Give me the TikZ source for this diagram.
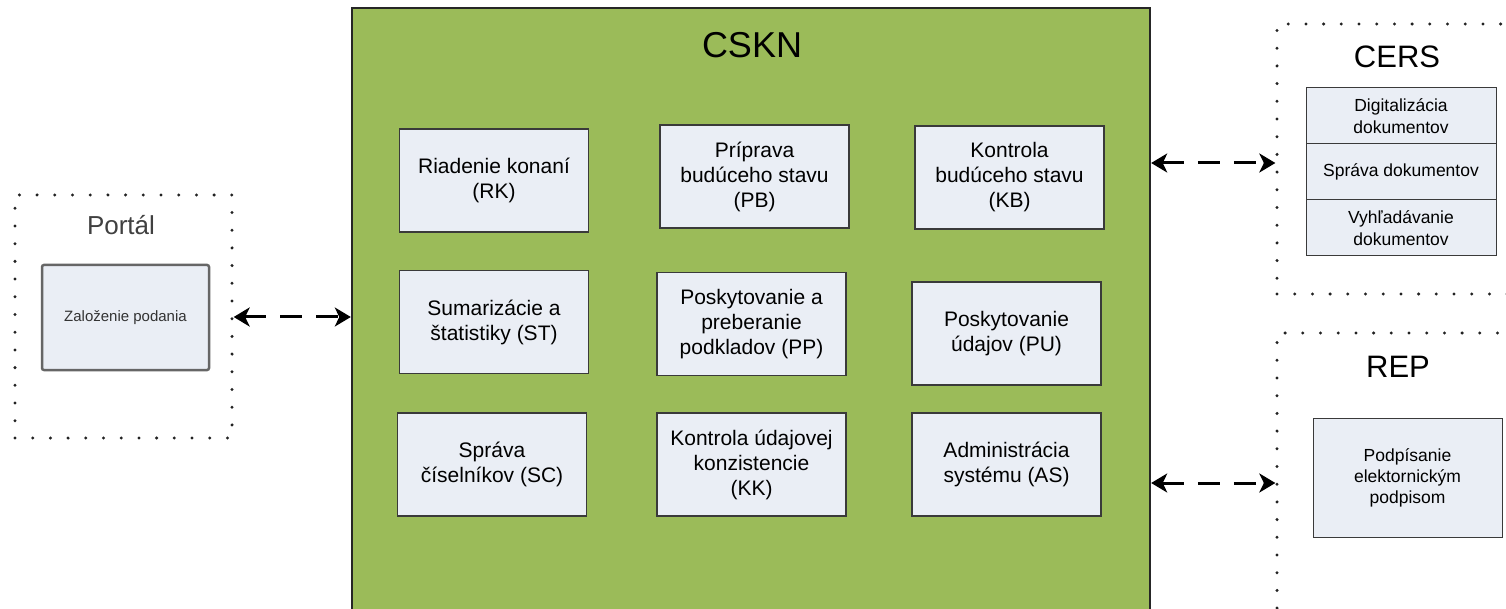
\documentclass[tikz,border=0pt]{standalone}
\usepackage{fontspec}
\setmainfont{Liberation Sans}
\usetikzlibrary{arrows.meta}
\definecolor{cskngreen}{HTML}{9BBB59}
\definecolor{boxfill}{HTML}{EAEEF5}
\definecolor{boxline}{HTML}{3A3A3A}
\definecolor{dotcol}{HTML}{222222}
\tikzset{
  fbox/.style={draw=boxline, line width=1.3pt, fill=boxfill, minimum width=189pt, minimum height=103pt, inner sep=0pt, align=center, font=\fontsize{21}{25}\selectfont},
  stackbox/.style={draw=boxline, line width=1pt, fill=boxfill, minimum width=190pt, minimum height=56pt, inner sep=0pt, align=center, font=\fontsize{17.5}{22}\selectfont},
  dotbox/.style={draw=dotcol, line width=3.3pt, dash pattern=on 0pt off 17.7pt, line cap=round, inner sep=0pt},
  conn/.style={line width=3pt, dash pattern=on 22pt off 14pt, {Stealth[length=16pt,width=19pt,inset=4.5pt]}-{Stealth[length=16pt,width=19pt,inset=4.5pt]}},
}
\begin{document}
\begin{tikzpicture}[x=1pt,y=-1pt]
\useasboundingbox (0,0) rectangle (1506,609);
\fill[white] (0,0) rectangle (1506,609);
% CSKN
\node[draw=black!85, line width=2.4pt, fill=cskngreen, minimum width=798pt, minimum height=612pt, inner sep=0pt] (cskn) at (751,314) {};
\node[font=\fontsize{36}{40}\selectfont] (csknt) at (752,45) {CSKN};
\node[fbox] (rk) at (494,180.5) {Riadenie konaní\\(RK)};
\node[fbox] (pb) at (754.5,176.5) {Príprava\\budúceho stavu\\(PB)};
\node[fbox] (kb) at (1009.5,177.5) {Kontrola\\budúceho stavu\\(KB)};
\node[fbox] (st) at (494,322) {Sumarizácie a\\štatistiky (ST)};
\node[fbox] (pp) at (751.5,324) {Poskytovanie a\\preberanie\\podkladov (PP)};
\node[fbox] (pu) at (1006.5,333.5) {Poskytovanie\\údajov (PU)};
\node[fbox] (sc) at (492,464.5) {Správa\\číselníkov (SC)};
\node[fbox] (kk) at (751.5,464.5) {Kontrola údajovej\\konzistencie\\(KK)};
\node[fbox] (as) at (1006.5,464.5) {Administrácia\\systému (AS)};
% Portal
\node[dotbox, minimum width=217pt, minimum height=243pt] (portal) at (123.5,316.5) {};
\node[font=\fontsize{26}{30}\selectfont, text=black!75] (portalt) at (121,225) {Portál};
\node[draw=black!60, line width=2.5pt, rounded corners=2pt, fill=boxfill, minimum width=167pt, minimum height=105pt, inner sep=0pt, font=\fontsize{15}{18}\selectfont, text=black!80] (zp) at (125.5,317.5) {Založenie podania};
% CERS
\node[dotbox, minimum width=260pt, minimum height=270pt] (cers) at (1407,159) {};
\node[font=\fontsize{31}{35}\selectfont] (cerst) at (1397,57) {CERS};
\node[stackbox] (dd) at (1401,116) {Digitalizácia\\dokumentov};
\node[stackbox] (sd) at (1401,172) {Správa dokumentov};
\node[stackbox] (vd) at (1401,228) {Vyhľadávanie\\dokumentov};
% REP
\node[dotbox, minimum width=260pt, minimum height=320pt] (rep) at (1407,493) {};
\node[font=\fontsize{31}{35}\selectfont] (rept) at (1398,367) {REP};
\node[stackbox, minimum width=189pt, minimum height=119pt, font=\fontsize{17.5}{21}\selectfont] (pep) at (1407.5,477.5) {Podpísanie\\elektornickým\\podpisom};
% connectors
\draw[conn] (portal.east |- 0,317) -- (cskn.west |- 0,317);
\draw[conn] (cskn.east |- 0,163) -- (cers.west |- 0,163);
\draw[conn] (cskn.east |- 0,483) -- (rep.west |- 0,483);
\end{tikzpicture}
\end{document}
